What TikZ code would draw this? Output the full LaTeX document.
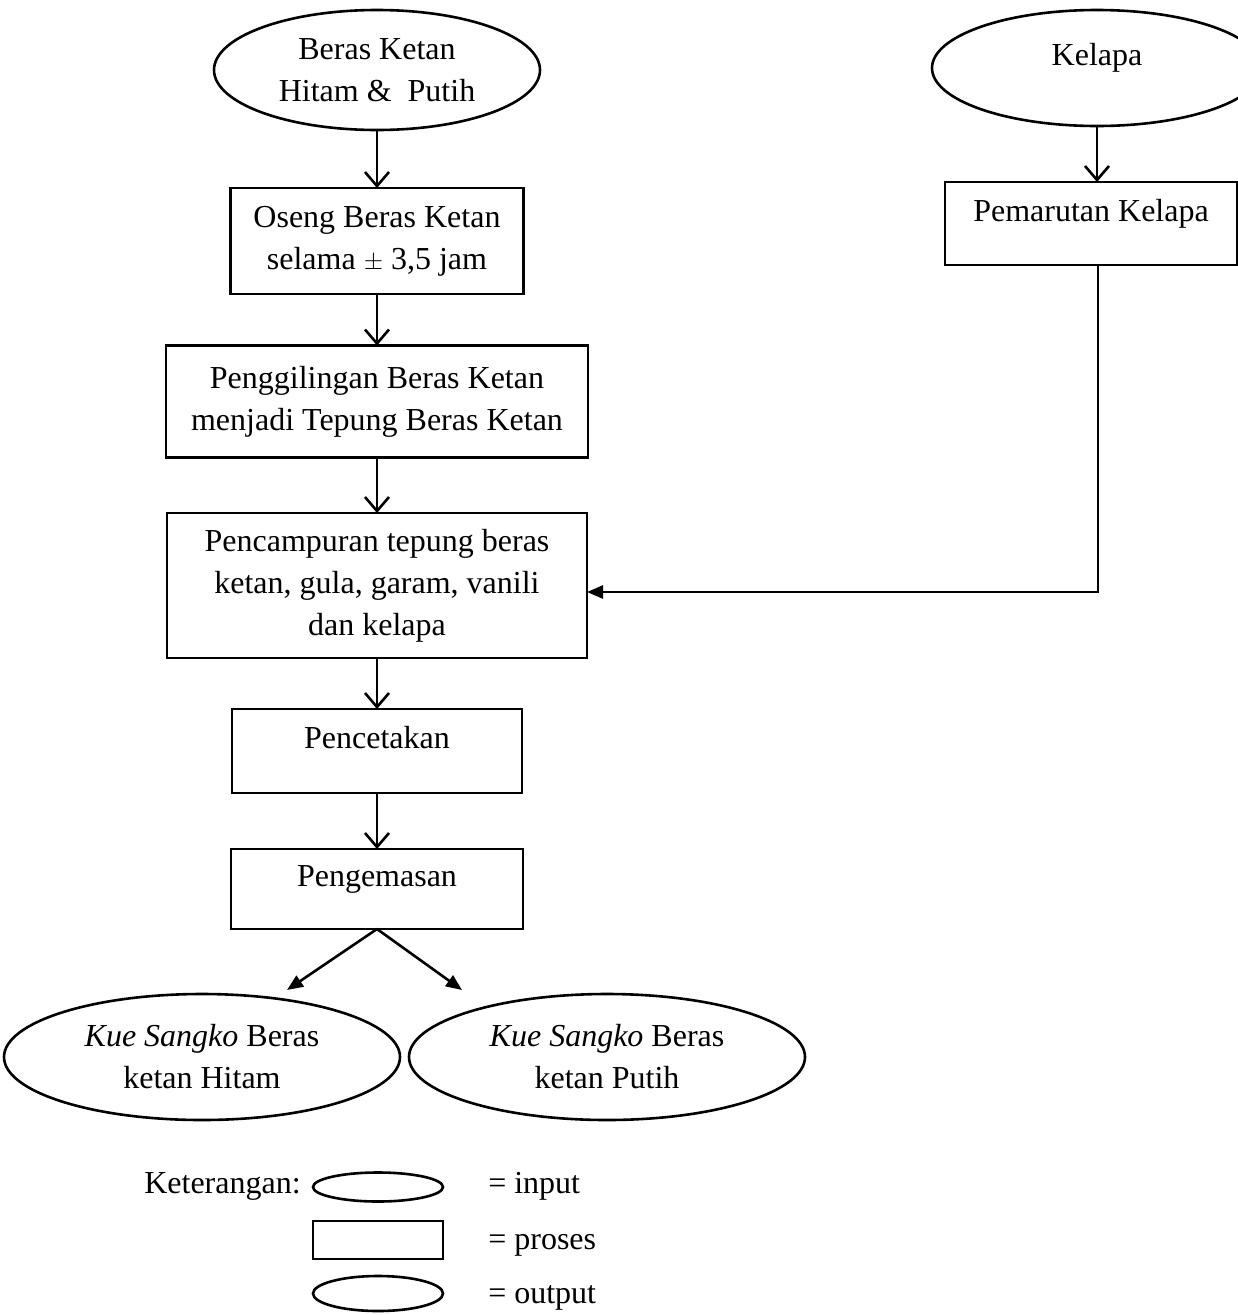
\documentclass[tikz,border=0pt]{standalone}
\usepackage{fontspec}
\setmainfont{Liberation Serif}
\usetikzlibrary{shapes.geometric,arrows.meta}
\begin{document}
\begin{tikzpicture}[x=1pt,y=-1pt,
  line width=2.6pt,
  every node/.style={font=\fontsize{32}{42}\selectfont},
  ell/.style={draw,ellipse,inner sep=0pt,outer sep=0pt,align=center},
  box/.style={draw,rectangle,inner sep=0pt,outer sep=0pt,align=center},
  raised/.style={text height=22pt,text depth=27pt},
  varrow/.style={-{Straight Barb[length=14pt,width=24pt]}},
  farrow/.style={-{Triangle[length=16pt,width=13pt]}},
  lbl/.style={anchor=base west,inner sep=0pt}]
\useasboundingbox (0,0) rectangle (1238,1315);
% left column
\node[ell,minimum width=326pt,minimum height=120pt] (beras) at (377,70) {Beras Ketan\\Hitam \&\ \ Putih};
\node[box,minimum width=293pt,minimum height=106pt] (oseng) at (377,241) {Oseng Beras Ketan\\selama $\pm$ 3,5 jam};
\node[box,minimum width=422pt,minimum height=112pt] (giling) at (377,401.5) {Penggilingan Beras Ketan\\menjadi Tepung Beras Ketan};
\node[box,minimum width=420pt,minimum height=145pt] (campur) at (377,585.5) {Pencampuran tepung beras\\ketan, gula, garam, vanili\\dan kelapa};
\node[box,raised,minimum width=290pt,minimum height=84pt] (cetak) at (377,751) {Pencetakan};
\node[box,raised,minimum width=292pt,minimum height=80pt] (kemas) at (377,889) {Pengemasan};
% outputs
\node[ell,minimum width=396pt,minimum height=126pt] (hitam) at (202,1057) {\textit{Kue Sangko} Beras\\ketan Hitam};
\node[ell,minimum width=396pt,minimum height=126pt] (putih) at (607,1057) {\textit{Kue Sangko} Beras\\ketan Putih};
\coordinate (endL) at (287,990);
\coordinate (endR) at (462,990);
% right column
\node[ell,raised,minimum width=330pt,minimum height=116pt] (kelapa) at (1097,68) {Kelapa};
\node[box,raised,minimum width=292pt,minimum height=83pt] (parut) at (1091,223.5) {Pemarutan Kelapa};
\coordinate (join) at (1098,592);
% connectors
\draw[varrow] (beras) -- (oseng);
\draw[varrow] (oseng) -- (giling);
\draw[varrow] (giling) -- (campur);
\draw[varrow] (campur) -- (cetak);
\draw[varrow] (cetak) -- (kemas);
\draw[varrow] (kelapa.south) -- (kelapa.south |- parut.north);
\draw[farrow] (parut.south -| join) -- (join) -- (campur.east |- join);
\draw[farrow] (kemas.south) -- (endL);
\draw[farrow] (kemas.south) -- (endR);
% legend
\node[lbl] (ket) at (143,1193) {Keterangan:};
\node[ell,minimum width=130pt,minimum height=29pt] (lgin) at (378,1187) {};
\node[box,minimum width=130pt,minimum height=38pt] (lgpr) at (378,1240) {};
\node[ell,minimum width=130pt,minimum height=35pt] (lgout) at (378,1293.5) {};
\node[lbl] (tin) at (487,1193) {= input};
\node[lbl] (tpr) at (487,1249) {= proses};
\node[lbl] (tout) at (487,1303) {= output};
\end{tikzpicture}
\end{document}
